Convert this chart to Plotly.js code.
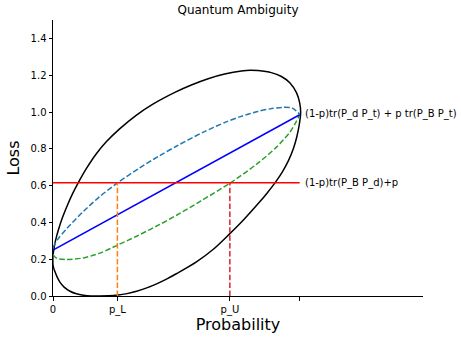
<!DOCTYPE html>
<html>
<head>
<meta charset="utf-8">
<script src="https://cdn.plot.ly/plotly-3.0.1.min.js"></script>
<style>html,body{margin:0;padding:0;background:#fff;}#chart{width:461px;height:337px;}</style>
</head>
<body>
<div id="chart"></div>
<script>
// Values
const pL = 0.261;
const pU = 0.717;
const redLevel = 0.615;

const xTickVals = [0, pL, pU, 1];
const xTickText = ['0', 'p_L', 'p_U', ''];
const yTickVals = [0, 0.2, 0.4, 0.6, 0.8, 1.0, 1.2, 1.4];
const yTickText = ['0.0', '0.2', '0.4', '0.6', '0.8', '1.0', '1.2', '1.4'];

// black closed curve (read point by point, clipped at the axes as in the picture)
const ellipseX = [0.000, 0.000, 0.003, 0.010, 0.022, 0.038, 0.058, 0.078, 0.101, 0.135, 0.175, 0.216, 0.270, 0.337, 0.405, 0.494, 0.561, 0.629, 0.696, 0.764, 0.800, 0.831, 0.885, 0.926, 0.960, 0.987, 1.000, 1.004, 0.998, 0.988, 0.975, 0.955, 0.930, 0.900, 0.870, 0.839, 0.772, 0.714, 0.650, 0.580, 0.500, 0.460, 0.420, 0.380, 0.339, 0.300, 0.264, 0.225, 0.190, 0.155, 0.123, 0.095, 0.069, 0.045, 0.028, 0.016, 0.008, 0.003, 0.000];
const ellipseY = [0.170, 0.220, 0.250, 0.300, 0.360, 0.425, 0.492, 0.552, 0.612, 0.692, 0.772, 0.838, 0.908, 0.982, 1.043, 1.107, 1.147, 1.181, 1.206, 1.223, 1.227, 1.225, 1.214, 1.193, 1.159, 1.105, 1.050, 0.994, 0.928, 0.863, 0.803, 0.737, 0.675, 0.615, 0.563, 0.513, 0.413, 0.335, 0.254, 0.184, 0.121, 0.092, 0.066, 0.044, 0.026, 0.013, 0.005, 0.001, 0.000, 0.000, 0.004, 0.012, 0.026, 0.048, 0.075, 0.105, 0.132, 0.150, 0.170];

// blue straight line
const lineX = [0, 1];
const lineY = [0.249, 0.985];

// blue dashed curve
const upperX = [0.000, 0.020, 0.055, 0.123, 0.190, 0.265, 0.350, 0.430, 0.500, 0.610, 0.700, 0.760, 0.830, 0.880, 0.930, 0.970, 1.000];
const upperY = [0.265, 0.309, 0.365, 0.459, 0.541, 0.618, 0.695, 0.761, 0.814, 0.891, 0.945, 0.975, 1.003, 1.017, 1.025, 1.021, 0.988];

// green dashed curve
const lowerX = [0.000, 0.015, 0.055, 0.123, 0.190, 0.264, 0.339, 0.433, 0.514, 0.600, 0.717, 0.825, 0.906, 0.960, 0.985, 1.000];
const lowerY = [0.225, 0.205, 0.198, 0.207, 0.233, 0.278, 0.325, 0.389, 0.449, 0.517, 0.613, 0.716, 0.809, 0.890, 0.945, 0.985];

const label1 = '(1-p)tr(P_d P_t) + p tr(P_B P_t)';
const label2 = '(1-p)tr(P_B P_d)+p';

const traces = [
  {x: ellipseX, y: ellipseY, mode: 'lines', line: {color: '#000000', width: 1.5, shape: 'spline', smoothing: 0.8}, hoverinfo: 'skip'},
  {x: upperX, y: upperY, mode: 'lines', line: {color: '#1f77b4', width: 1.5, dash: '5.5px,2.4px', shape: 'spline', smoothing: 0.8}, hoverinfo: 'skip'},
  {x: lowerX, y: lowerY, mode: 'lines', line: {color: '#2ca02c', width: 1.5, dash: '5.5px,2.4px', shape: 'spline', smoothing: 0.8}, hoverinfo: 'skip'},
  {x: lineX, y: lineY, mode: 'lines', line: {color: '#0000ff', width: 1.5}, hoverinfo: 'skip'},
  {x: [0, 1], y: [redLevel, redLevel], mode: 'lines', line: {color: '#ff0000', width: 1.5}, hoverinfo: 'skip'},
  {x: [pL, pL], y: [0, redLevel], mode: 'lines', line: {color: '#ff7f0e', width: 1.5, dash: '5.5px,2.4px'}, hoverinfo: 'skip'},
  {x: [pU, pU], y: [0, redLevel], mode: 'lines', line: {color: '#d62728', width: 1.5, dash: '5.5px,2.4px'}, hoverinfo: 'skip'}
];

const layout = {
  width: 461, height: 337,
  margin: {l: 53, r: 38, t: 20, b: 40.5, pad: 0},
  paper_bgcolor: '#ffffff', plot_bgcolor: '#ffffff',
  showlegend: false,
  font: {family: 'DejaVu Sans', size: 10, color: '#000000'},
  title: {text: 'Quantum Ambiguity', font: {size: 12, family: 'DejaVu Sans', color: '#000'}, x: 0.5, xref: 'paper', y: 0.972, yref: 'container', yanchor: 'middle'},
  xaxis: {
    range: [0, 1.5], showgrid: false, zeroline: false, showline: true, linecolor: '#000', linewidth: 1,
    ticks: 'outside', ticklen: 3.5, tickwidth: 1, tickcolor: '#000',
    tickmode: 'array', tickvals: xTickVals, ticktext: xTickText, tickfont: {size: 10},
    title: {text: 'Probability', font: {size: 16}, standoff: 4}
  },
  yaxis: {
    range: [0, 1.5], showgrid: false, zeroline: false, showline: true, linecolor: '#000', linewidth: 1,
    ticks: 'outside', ticklen: 3.5, tickwidth: 1, tickcolor: '#000',
    tickmode: 'array', tickvals: yTickVals, ticktext: yTickText, tickfont: {size: 10},
    title: {text: 'Loss', font: {size: 16}, standoff: 6}
  },
  annotations: [
    {x: 1.015, y: 0.99, xref: 'x', yref: 'y', text: label1, showarrow: false, xanchor: 'left', yanchor: 'middle', font: {size: 10}},
    {x: 1.015, y: redLevel, xref: 'x', yref: 'y', text: label2, showarrow: false, xanchor: 'left', yanchor: 'middle', font: {size: 10}}
  ]
};

Plotly.newPlot('chart', traces, layout, {staticPlot: true, displayModeBar: false});
</script>
</body>
</html>
